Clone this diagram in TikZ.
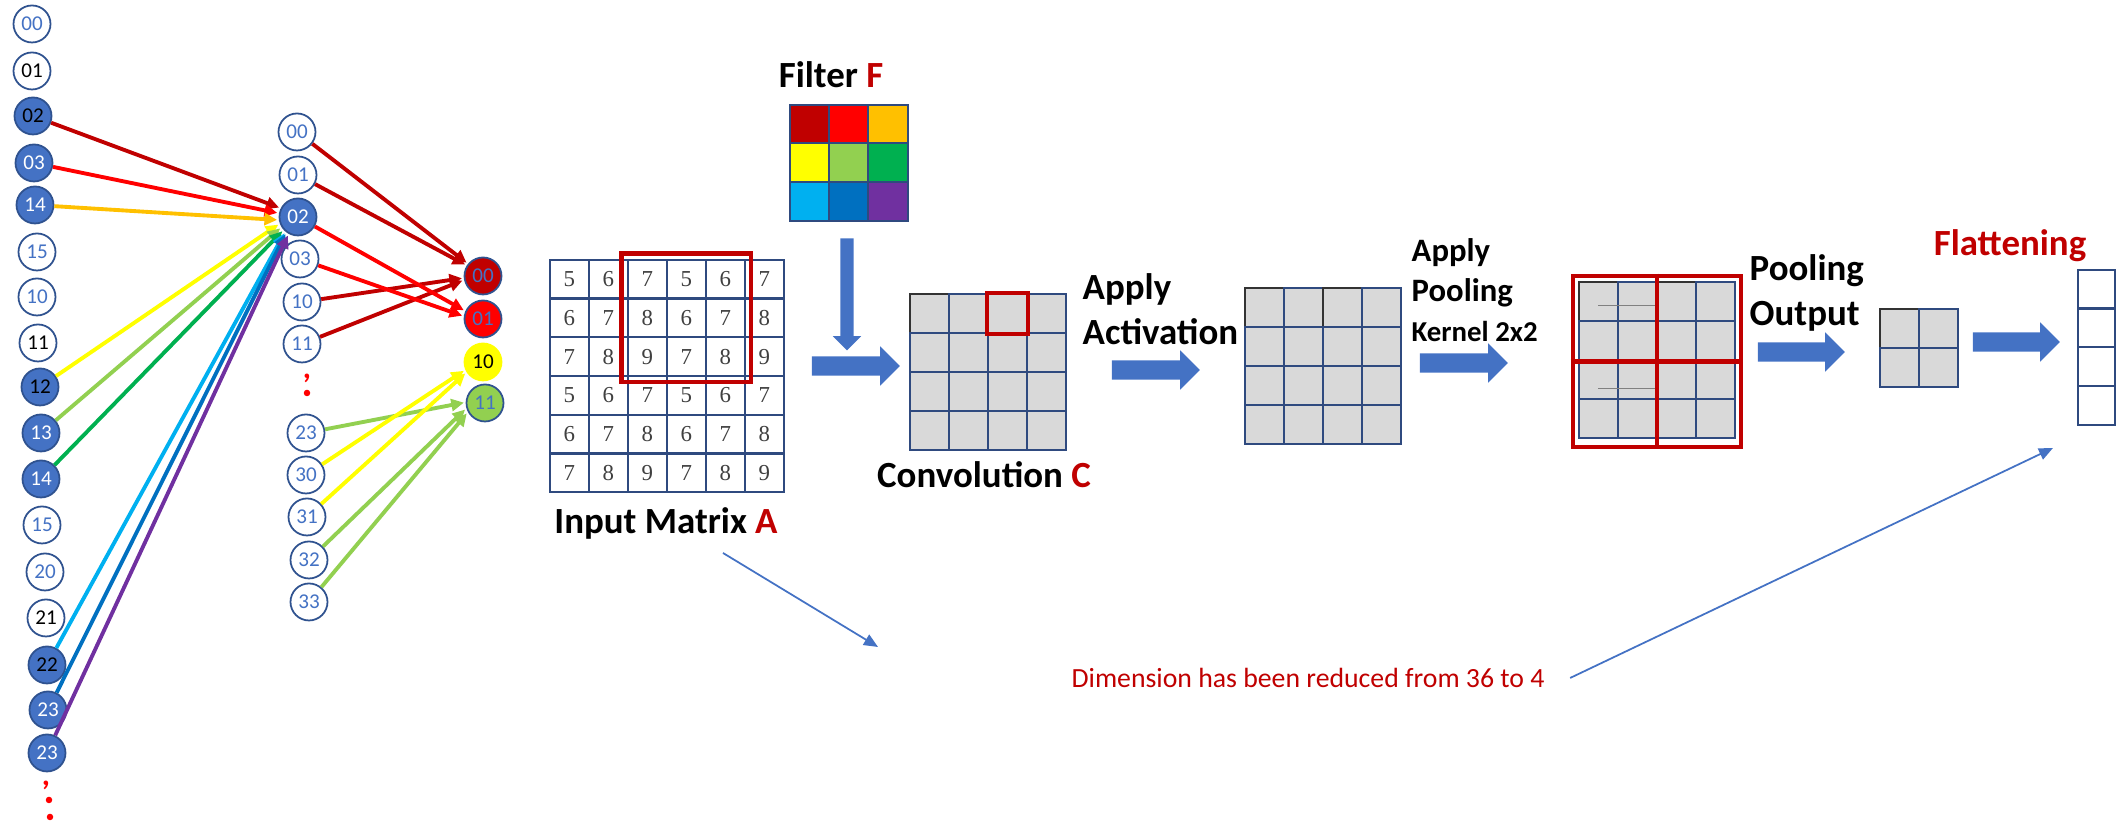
\documentclass[tikz,border=0pt]{standalone}
\usepackage{fontspec}
\setmainfont{Carlito}
\newfontfamily\cellfont{Liberation Serif}
\usetikzlibrary{arrows.meta, matrix, fit, shapes.arrows}
\definecolor{NodeBlue}{HTML}{4472C4}
\definecolor{RimBlue}{HTML}{2F528F}
\definecolor{GridNavy}{HTML}{2F4A7F}
\definecolor{CellGray}{HTML}{D9D9D9}
\definecolor{DeepRed}{HTML}{C00000}
\definecolor{PureRed}{HTML}{FF0000}
\definecolor{Amber}{HTML}{FFC000}
\definecolor{Lemon}{HTML}{FFFF00}
\definecolor{Lime}{HTML}{92D050}
\definecolor{Leaf}{HTML}{00B050}
\definecolor{Sky}{HTML}{00B0F0}
\definecolor{Ocean}{HTML}{0070C0}
\definecolor{Violet}{HTML}{7030A0}
\tikzset{
  unit/.style={circle, draw=RimBlue, line width=0.5pt, fill=white, minimum size=0.37cm, inner sep=0pt, text=NodeBlue, font=\fontsize{6}{7}\selectfont},
  unitblack/.style={unit, text=black},
  hot/.style={unit, fill=NodeBlue, text=white},
  hotblack/.style={hot, text=black},
  wire/.style={-{Triangle[length=3.6pt, width=3.4pt]}, line width=1.1pt, shorten >=0.5pt},
  cell/.style={draw=GridNavy, line width=0.6pt, minimum width=0.39cm, minimum height=0.39cm, inner sep=0pt},
  graycell/.style={cell, fill=CellGray},
  cellmatrix/.style={matrix of nodes, nodes in empty cells, inner sep=0pt, column sep=-0.6pt, row sep=-0.6pt, matrix anchor=north west},
  redframe/.style={draw=DeepRed, line width=1.2pt, inner sep=1.5pt},
  title/.style={inner sep=0pt, align=left, font=\fontsize{10.5}{12.8}\selectfont\bfseries},
  bigarrow/.style={single arrow, fill=NodeBlue, draw=none, minimum height=0.88cm, single arrow head extend=0.1cm, single arrow head indent=0pt, inner xsep=0pt, inner ysep=0.09cm},
  thinarrow/.style={-{Triangle[length=4pt, width=3.4pt]}, draw=NodeBlue, line width=0.5pt},
  reddot/.style={circle, fill=PureRed, inner sep=0pt, minimum size=0.065cm},
  more/.style={text=PureRed, inner sep=0pt, font=\small\bfseries}
}
\begin{document}
\begin{tikzpicture}
\useasboundingbox (0,0) rectangle (21.18,8.24);
% input pixels
\node[unit] (l00) at (0.32,8.00) {00};
\node[unitblack] (l01) at (0.32,7.53) {01};
\node[hotblack] (l02) at (0.33,7.08) {02};
\node[hot] (l03) at (0.34,6.61) {03};
\node[hot] (l14) at (0.35,6.19) {14};
\node[unit] (l15) at (0.37,5.72) {15};
\node[unit] (l10) at (0.37,5.27) {10};
\node[unitblack] (l11) at (0.38,4.81) {11};
\node[hotblack] (l12) at (0.40,4.37) {12};
\node[hot] (l13) at (0.41,3.91) {13};
\node[hot] (l14b) at (0.41,3.45) {14};
\node[unit] (l15b) at (0.42,2.99) {15};
\node[unit] (l20) at (0.45,2.52) {20};
\node[unitblack] (l21) at (0.46,2.06) {21};
\node[hotblack] (l22) at (0.47,1.59) {22};
\node[hot] (l23) at (0.48,1.14) {23};
\node[hot] (l23b) at (0.47,0.71) {23};
\node[more] (lmore) at (0.46,0.39) {,};
\node[reddot] (ldot1) at (0.49,0.24) {};
\node[reddot] (ldot2) at (0.50,0.07) {};
% hidden units
\node[unit] (m00) at (2.97,6.92) {00};
\node[unit] (m01) at (2.98,6.49) {01};
\node[hot] (m02) at (2.98,6.07) {02};
\node[unit] (m03) at (3.00,5.65) {03};
\node[unit] (m10) at (3.02,5.22) {10};
\node[unit] (m11) at (3.02,4.80) {11};
\node[more] (mmore) at (3.07,4.46) {,};
\node[reddot] (mdot) at (3.07,4.31) {};
\node[unit] (m23) at (3.06,3.91) {23};
\node[unit] (m30) at (3.06,3.49) {30};
\node[unit] (m31) at (3.07,3.07) {31};
\node[unit] (m32) at (3.09,2.64) {32};
\node[unit] (m33) at (3.09,2.22) {33};
% output units
\node[unit, fill=DeepRed] (r00) at (4.83,5.48) {00};
\node[unit, fill=PureRed] (r01) at (4.83,5.05) {01};
\node[unit, fill=Lemon, draw=Lemon, text=black] (r10) at (4.83,4.62) {10};
\node[unit, fill=Lime] (r11) at (4.85,4.21) {11};
\draw[wire, DeepRed] (l02) -- (m02.153);
\draw[wire, PureRed] (l03) -- (m02.169);
\draw[wire, Amber] (l14) -- (m02.189);
\draw[wire, Lemon] (l12) -- (m02.200);
\draw[wire, Lime] (l13) -- (m02.212);
\draw[wire, Leaf] (l14b) -- (m02.222);
\draw[wire, Sky] (l22) -- (m02.229);
\draw[wire, Ocean] (l23) -- (m02.233);
\draw[wire, Violet] (l23b) -- (m02.241);
\draw[wire, DeepRed] (m00) -- (r00.141);
\draw[wire, DeepRed] (m01) -- (r00.147);
\draw[wire, DeepRed] (m10) -- (r00.186);
\draw[wire, DeepRed] (m11) -- (r00.192);
\draw[wire, PureRed] (m02) -- (r01.156);
\draw[wire, PureRed] (m03) -- (r01.172);
\draw[wire, Lime] (m23) -- (r11.178);
\draw[wire, Lemon] (m30) -- (r10.204);
\draw[wire, Lemon] (m31) -- (r10.212);
\draw[wire, Lime] (m32) -- (r11.196);
\draw[wire, Lime] (m33) -- (r11.208);
% filter and input
\node[title] (ftitle) at (8.31,7.49) {Filter \textcolor{DeepRed}{F}};
\matrix (F) [cellmatrix, nodes={cell, minimum width=0.393cm, minimum height=0.387cm}] at (7.88,7.21) {
  |[fill=DeepRed]| & |[fill=PureRed]| & |[fill=Amber]| \\
  |[fill=Lemon]| & |[fill=Lime]| & |[fill=Leaf]| \\
  |[fill=Sky]| & |[fill=Ocean]| & |[fill=Violet]| \\
};
\node[bigarrow, shape border rotate=270, minimum height=1.12cm, inner xsep=0.06cm, inner ysep=0pt, single arrow head extend=0.075cm] (fdown) at (8.47,5.33) {};
\matrix (A) [cellmatrix, nodes={cell, minimum height=0.387cm, font=\cellfont\fontsize{6.5}{7}\selectfont, text=black!75}] at (5.48,5.66) {
  5 & 6 & 7 & 5 & 6 & 7 \\
  6 & 7 & 8 & 6 & 7 & 8 \\
  7 & 8 & 9 & 7 & 8 & 9 \\
  5 & 6 & 7 & 5 & 6 & 7 \\
  6 & 7 & 8 & 6 & 7 & 8 \\
  7 & 8 & 9 & 7 & 8 & 9 \\
};
\node[redframe, fit=(A-1-3)(A-3-5)] (window) {};
\node[title] (inA) at (6.66,3.01) {Input Matrix \textcolor{DeepRed}{A}};
\node[bigarrow] (toconv) at (8.51,4.58) {};
% convolution
\matrix (C) [cellmatrix, nodes={graycell}] at (9.08,5.32) {
  |[draw=black!80]| & & & \\
  & & & \\
  & & & \\
  & & & \\
};
\node[redframe, inner sep=0pt, fit=(C-1-3)] (hit) {};
\node[title] (conv) at (9.84,3.49) {Convolution \textcolor{DeepRed}{C}};
\node[title, anchor=west] (act) at (10.82,5.145) {Apply\\Activation};
\node[bigarrow] (toact) at (11.51,4.54) {};
\matrix (R) [cellmatrix, nodes={graycell}] at (12.43,5.38) {
  |[draw=black!80]| & & |[draw=black!80]| & \\
  & & & \\
  & & & \\
  & & & \\
};
% pooling
\node[title, anchor=west, font=\fontsize{9.3}{11.4}\selectfont\bfseries] (poolttl) at (14.11,5.34) {Apply\\Pooling\\\fontsize{8.2}{10}\selectfont Kernel 2x2};
\node[bigarrow] (topool) at (14.59,4.61) {};
\matrix (P) [cellmatrix, nodes={graycell}] at (15.77,5.44) {
  |[draw=black!80]| & & |[draw=black!80]| & \\
  & & & \\
  & & & \\
  & & & \\
};
\draw[gray, line width=0.4pt] ([yshift=-0.045cm]P-1-1.center) -- ([yshift=-0.045cm]P-1-2.east);
\draw[gray, line width=0.4pt] ([yshift=-0.095cm]P-3-1.center) -- ([yshift=-0.095cm]P-3-2.east);
\coordinate (pfoot) at ([yshift=-1pt]P-4-4.south east);
\node[redframe, inner sep=1.4pt, fit=(P-1-1)(pfoot)] (poolbox) {};
\draw[DeepRed, line width=1.2pt] (poolbox.north) -- (poolbox.south);
\draw[DeepRed, line width=1.2pt] (poolbox.west) -- (poolbox.east);
\node[title, anchor=west] (poolout) at (17.49,5.315) {Pooling\\Output};
\node[bigarrow, minimum height=0.87cm] (toout) at (17.965,4.72) {};
\matrix (O) [cellmatrix, nodes={graycell}] at (18.78,5.17) {
  |[draw=black!80]| & \\
  & \\
};
\node[bigarrow, minimum height=0.87cm] (toflat) at (20.115,4.82) {};
% flattening
\node[title, text=DeepRed] (flatttl) at (20.10,5.78) {Flattening};
\matrix (V) [cellmatrix, nodes={cell, fill=white, minimum width=0.37cm, minimum height=0.388cm}] at (20.76,5.56) {
  \\
  \\
  \\
  \\
};
\node[text=DeepRed, inner sep=0pt, font=\fontsize{7.9}{9}\selectfont] (dim) at (13.08,1.46) {Dimension has been reduced from 36 to 4};
\coordinate (dimfrom) at (7.23,2.71);
\coordinate (dimto) at (8.78,1.77);
\coordinate (flatfoot) at (20.53,3.76);
\draw[thinarrow] (dimfrom) -- (dimto);
\draw[thinarrow] ([xshift=0.25cm]dim.east) -- (flatfoot);
\end{tikzpicture}
\end{document}
